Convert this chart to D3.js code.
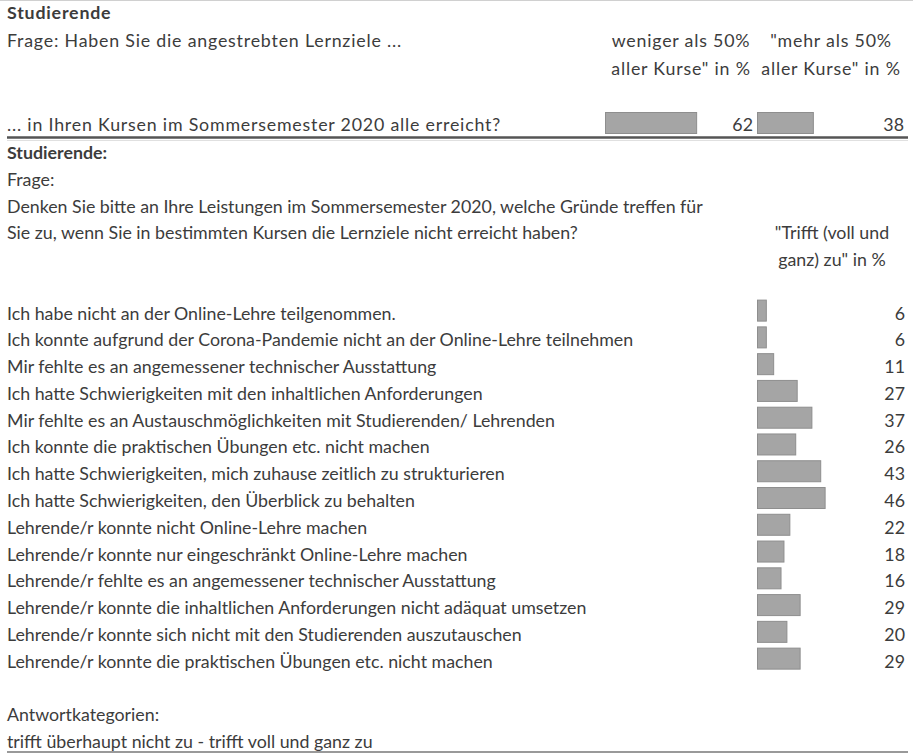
<!DOCTYPE html>
<html>
<head>
<meta charset="utf-8">
<script src="https://cdn.jsdelivr.net/npm/d3@7"></script>
<style>
  body { margin: 0; background: #fff; }
  svg text { font-family: Lato, "Open Sans", sans-serif; font-size: 17.8px; fill: #3c3c3c; }
  svg text.wide { letter-spacing: 0.8px; }
  .bold { font-weight: bold; }
</style>
</head>
<body>
<div id="chart"></div>
<script>
// section 1: share of courses where learning goals were reached
const part1Question = "... in Ihren Kursen im Sommersemester 2020 alle erreicht?";
const part1Columns = [["weniger als 50%", "aller Kurse\" in %"], ["\"mehr als 50%", "aller Kurse\" in %"]];
const part1Values = [62, 38];

// section 2: reasons
const reasonLabels = [
  "Ich habe nicht an der Online-Lehre teilgenommen.",
  "Ich konnte aufgrund der Corona-Pandemie nicht an der Online-Lehre teilnehmen",
  "Mir fehlte es an angemessener technischer Ausstattung",
  "Ich hatte Schwierigkeiten mit den inhaltlichen Anforderungen",
  "Mir fehlte es an Austauschmöglichkeiten mit Studierenden/ Lehrenden",
  "Ich konnte die praktischen Übungen etc. nicht machen",
  "Ich hatte Schwierigkeiten, mich zuhause zeitlich zu strukturieren",
  "Ich hatte Schwierigkeiten, den Überblick zu behalten",
  "Lehrende/r konnte nicht Online-Lehre machen",
  "Lehrende/r konnte nur eingeschränkt Online-Lehre machen",
  "Lehrende/r fehlte es an angemessener technischer Ausstattung",
  "Lehrende/r konnte die inhaltlichen Anforderungen nicht adäquat umsetzen",
  "Lehrende/r konnte sich nicht mit den Studierenden auszutauschen",
  "Lehrende/r konnte die praktischen Übungen etc. nicht machen"
];
const reasonValues = [6, 6, 11, 27, 37, 26, 43, 46, 22, 18, 16, 29, 20, 29];

const width = 913;
const height = 755;
const left = 7;
const right = 905;

const svg = d3.select("#chart").append("svg")
  .attr("width", width)
  .attr("height", height);

const barFill = "#a5a5a5";
const barStroke = "#8e8e8e";

// same scale for all bars
const x = d3.scaleLinear().domain([0, 100]).range([0, 147]);

function txt(xp, yp, str, anchor = "start", cls = null) {
  return svg.append("text")
    .attr("x", xp)
    .attr("y", yp)
    .attr("text-anchor", anchor)
    .attr("class", cls)
    .text(str);
}

// faint border at the very top
svg.append("line").attr("x1", 0).attr("x2", width).attr("y1", 0.5).attr("y2", 0.5)
  .attr("stroke", "#d0d0d0");

// ---- section 1 ----
const step1 = 28;
const base1 = 19;
txt(left, base1, "Studierende", "start", "bold wide");
txt(left, base1 + step1, "Frage: Haben Sie die angestrebten Lernziele ...", "start", "wide");

const colCenters = [681, 831];
part1Columns.forEach((lines, i) => {
  lines.forEach((l, j) => txt(colCenters[i], base1 + step1 * (1 + j), l, "middle", "wide"));
});

const row1Base = base1 + step1 * 4;
txt(left, row1Base, part1Question, "start", "wide");

const part1BarStart = [605, 757];
const part1ValueRight = [753, 904];
part1Values.forEach((v, i) => {
  svg.append("rect")
    .attr("x", part1BarStart[i] + 0.5)
    .attr("y", row1Base - 18.5)
    .attr("width", x(v))
    .attr("height", 21)
    .attr("fill", barFill)
    .attr("stroke", barStroke);
  txt(part1ValueRight[i], row1Base, v, "end");
});

svg.append("line").attr("x1", left).attr("x2", right + 3)
  .attr("y1", 137.5).attr("y2", 137.5)
  .attr("stroke", "#555").attr("stroke-width", 2.5);
svg.append("line").attr("x1", left).attr("x2", right + 3)
  .attr("y1", 140.5).attr("y2", 140.5)
  .attr("stroke", "#e0e0e0").attr("stroke-width", 1);

// ---- section 2 ----
const step2 = 26.77;
const base2 = 159;
txt(left, base2, "Studierende:", "start", "bold");
txt(left, base2 + step2, "Frage:");
txt(left, base2 + step2 * 2, "Denken Sie bitte an Ihre Leistungen im Sommersemester 2020, welche Gründe treffen für");
txt(left, base2 + step2 * 3, "Sie zu, wenn Sie in bestimmten Kursen die Lernziele nicht erreicht haben?");
txt(832, base2 + step2 * 3, "\"Trifft (voll und", "middle");
txt(832, base2 + step2 * 4, "ganz) zu\" in %", "middle");

const y = d3.scaleBand()
  .domain(d3.range(reasonLabels.length))
  .range([base2 + step2 * 5, base2 + step2 * (5 + reasonLabels.length)]);

const barStart = 757;
const rows = svg.append("g");
reasonLabels.forEach((label, i) => {
  const b = y(i) + y.bandwidth();
  txt(left, b, label);
  rows.append("rect")
    .attr("x", barStart + 0.5)
    .attr("y", b - 19.5)
    .attr("width", x(reasonValues[i]))
    .attr("height", 21)
    .attr("fill", barFill)
    .attr("stroke", barStroke);
  txt(right, b, reasonValues[i], "end");
});

txt(left, base2 + step2 * 21, "Antwortkategorien:");
txt(left, base2 + step2 * 22, "trifft überhaupt nicht zu - trifft voll und ganz zu");

svg.append("line").attr("x1", left).attr("x2", right + 3)
  .attr("y1", 752).attr("y2", 752)
  .attr("stroke", "#777").attr("stroke-width", 1.5);
</script>
</body>
</html>
